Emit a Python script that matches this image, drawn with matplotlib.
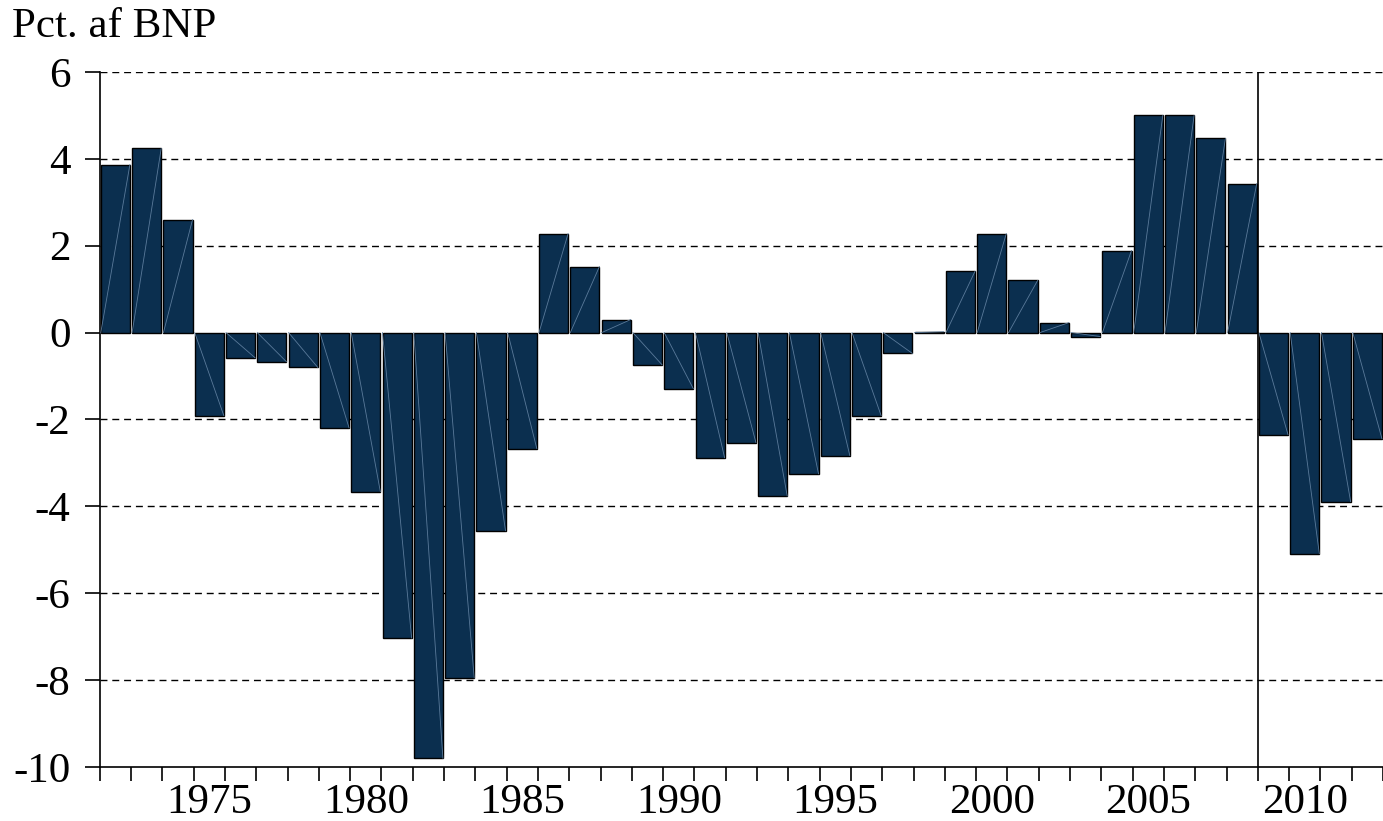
import numpy as np
import matplotlib.pyplot as plt

plt.rcParams['font.family'] = ['Liberation Serif', 'DejaVu Serif']
plt.rcParams['axes.unicode_minus'] = False

years = list(range(1972, 2013))
values = [3.87, 4.24, 2.60, -1.91, -0.58, -0.67, -0.80, -2.19, -3.66, -7.03,
          -9.80, -7.95, -4.56, -2.67, 2.28, 1.52, 0.30, -0.74, -1.29, -2.88,
          -2.53, -3.76, -3.25, -2.83, -1.91, -0.48, 0.02, 1.41, 2.28, 1.20,
          0.23, -0.09, 1.89, 5.00, 5.00, 4.47, 3.43, -2.35, -5.09, -3.89,
          -2.44]
label_years = [1975, 1980, 1985, 1990, 1995, 2000, 2005, 2010]
y_ticks = [-10, -8, -6, -4, -2, 0, 2, 4, 6]
grid_levels = [-8, -6, -4, -2, 2, 4, 6]
split_year = 2008.5  # vertical line between 2008 and 2009

fig = plt.figure(figsize=(13.83, 8.21), dpi=100)
ax = fig.add_axes([0.0721, 0.0658, 0.9279, 0.8465])

bar_color = '#0b2f4f'
width = 0.93
ax.bar(years, values, width=width, color=bar_color, edgecolor='black',
       linewidth=1.0, zorder=3)

# faint diagonal streaks inside the bars
for x, v in zip(years, values):
    ax.plot([x - width / 2, x + width / 2], [0, v], color='#5a7a9a',
            linewidth=0.6, zorder=4)

for g in grid_levels:
    ax.axhline(g, color='black', linewidth=1.0, linestyle=(0, (5, 3.5)), zorder=1)

ax.plot([split_year, split_year], [-10, 6], color='black', linewidth=1.2, zorder=5)

ax.set_xlim(1971.5, 2012.32)
ax.set_ylim(-10, 6)

for side in ['top', 'right']:
    ax.spines[side].set_visible(False)
ax.spines['left'].set_linewidth(1.2)
ax.spines['bottom'].set_linewidth(1.2)

ax.set_yticks(y_ticks)
ax.set_yticklabels([str(t) for t in y_ticks])
ax.tick_params(axis='y', direction='out', length=11, width=1.2, labelsize=31, pad=10)

# boundary ticks between years, labels centred on the years
ax.set_xticks(np.arange(1971.5, 2012.6, 1.0))
ax.set_xticklabels([])
ax.set_xticks(label_years, minor=True)
ax.set_xticklabels([str(y) for y in label_years], minor=True)
ax.tick_params(axis='x', which='major', direction='out', length=10, width=1.2)
ax.tick_params(axis='x', which='minor', length=0, labelsize=31, pad=12)

fig.text(0.009, 0.967, 'Pct. af BNP', fontsize=31, ha='left', va='center')

fig.savefig('out.png', dpi=100)
